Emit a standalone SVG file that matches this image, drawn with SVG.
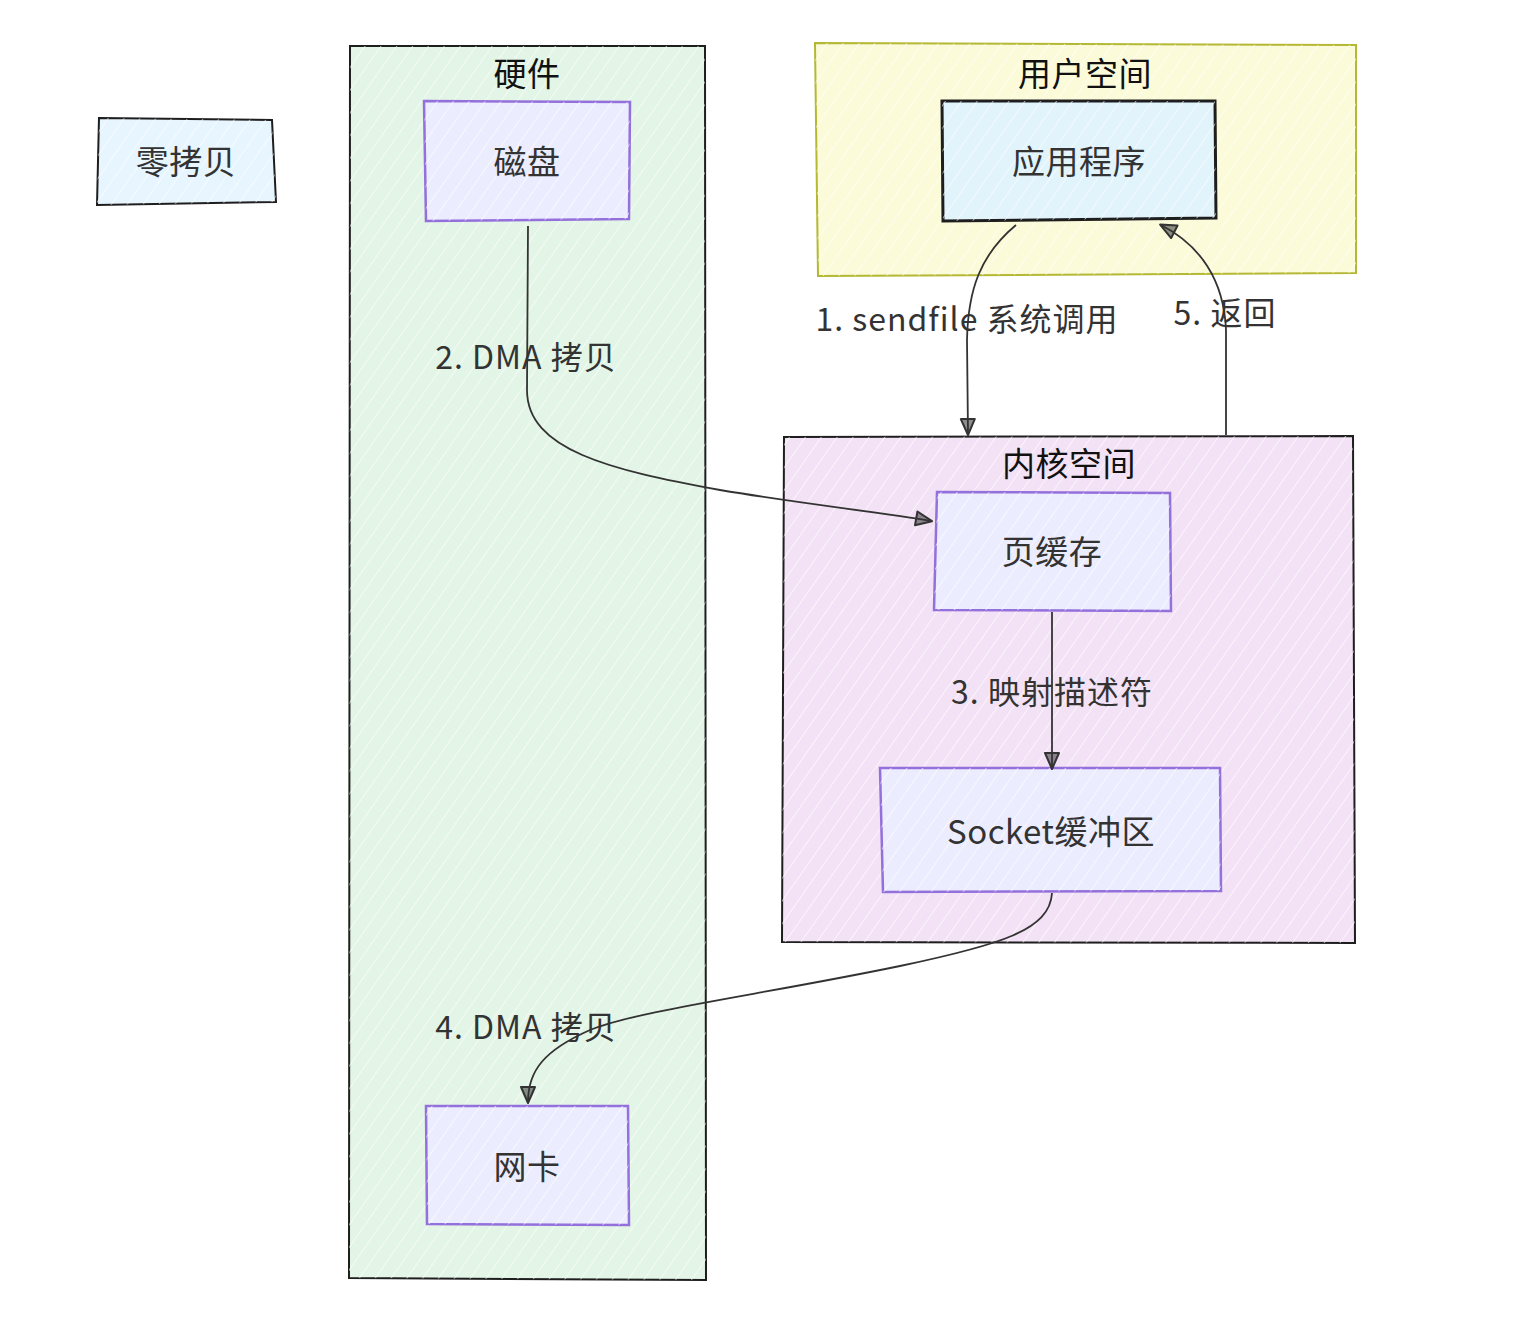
<svg xmlns="http://www.w3.org/2000/svg" width="1514" height="1324" viewBox="0 0 1514 1324">
<defs>
<pattern id="hatch" patternUnits="userSpaceOnUse" width="13" height="13" patternTransform="rotate(35)">
<line x1="0" y1="0" x2="0" y2="13" stroke="#ffffff" stroke-width="2" stroke-opacity="0.6"/>
</pattern>
<marker id="arr" viewBox="0 0 20 20" refX="17" refY="10" markerWidth="20" markerHeight="20" markerUnits="userSpaceOnUse" orient="auto">
<path d="M2,3 L18,10 L2,17 Z" fill="#333333" fill-opacity="0.55" stroke="#333333" stroke-width="2" stroke-linejoin="round"/>
</marker>
<style>
.t{font-family:"Noto Sans CJK SC","Noto Sans",sans-serif;font-size:33px;fill:#333333;text-anchor:middle;dominant-baseline:central;letter-spacing:0.5px}
.title{fill:#111111}
.lbl{font-family:"Noto Sans CJK SC","Noto Sans",sans-serif;font-size:32px;fill:#333333;text-anchor:middle;dominant-baseline:central;letter-spacing:1px}
.node{fill:#ececff;stroke:#9370db;stroke-width:2.5}
.edge{fill:none;stroke:#333333;stroke-width:1.8;marker-end:url(#arr)}
.h{fill:url(#hatch);stroke:none}
</style>
</defs>
<rect width="1514" height="1324" fill="#ffffff"/>

<g id="legend">
<path d="M99,118 L272,120 L276,202 L97,205 Z" fill="#e7f5ff" stroke="#1e1e1e" stroke-width="2"/>
<path d="M99,118 L272,120 L276,202 L97,205 Z" class="h"/>
<text x="186" y="160" class="t">零拷贝</text>
</g>

<g id="cluster-hardware">
<path d="M350,46 L705,46 L706,1280 L349,1278 Z" fill="#e3f5e6" stroke="#1e1e1e" stroke-width="2"/>
<path d="M350,46 L705,46 L706,1280 L349,1278 Z" class="h"/>
<text x="527" y="72" class="t title">硬件</text>
</g>

<g id="cluster-user">
<path d="M815,43 L1356,45 L1356,273 L818,276 Z" fill="#fbfbd9" stroke="#b4b832" stroke-width="2"/>
<path d="M815,43 L1356,45 L1356,273 L818,276 Z" class="h"/>
<text x="1085" y="72" class="t title">用户空间</text>
</g>

<g id="cluster-kernel">
<path d="M784,437 L1353,436 L1355,943 L782,942 Z" fill="#f3e2f5" stroke="#1e1e1e" stroke-width="2"/>
<path d="M784,437 L1353,436 L1355,943 L782,942 Z" class="h"/>
<text x="1069" y="462" class="t title">内核空间</text>
</g>

<g id="node-disk">
<path d="M424,101 L630,102 L629,219 L426,221 Z" class="node"/>
<path d="M424,101 L630,102 L629,219 L426,221 Z" class="h"/>
<text x="527" y="160" class="t">磁盘</text>
</g>

<g id="node-app">
<path d="M942,101 L1215,101 L1216,218 L943,221 Z" fill="#e1f3fb" stroke="#1e1e1e" stroke-width="3"/>
<path d="M942,101 L1215,101 L1216,218 L943,221 Z" class="h"/>
<text x="1079" y="160" class="t">应用程序</text>
</g>

<g id="node-pagecache">
<path d="M937,492 L1170,493 L1171,611 L934,610 Z" class="node"/>
<path d="M937,492 L1170,493 L1171,611 L934,610 Z" class="h"/>
<text x="1052" y="550" class="t">页缓存</text>
</g>

<g id="node-socket">
<path d="M880,768 L1220,768 L1221,891 L883,892 Z" class="node"/>
<path d="M880,768 L1220,768 L1221,891 L883,892 Z" class="h"/>
<text x="1051" y="830" class="t">Socket缓冲区</text>
</g>

<g id="node-nic">
<path d="M426,1106 L628,1106 L629,1225 L427,1224 Z" class="node"/>
<path d="M426,1106 L628,1106 L629,1225 L427,1224 Z" class="h"/>
<text x="527" y="1165" class="t">网卡</text>
</g>

<g id="connectors">
<path class="edge" d="M1016,225 C 980,255 968,290 967,340 L 968,434"/>
<path class="edge" d="M528,226 L527,390 C 527,450 610,470 720,490 C 810,505 880,512 931,521"/>
<path class="edge" d="M1052,612 L1052,768"/>
<path class="edge" d="M1052,893 C 1050,930 1000,945 900,966 C 760,995 640,1010 590,1030 C 545,1050 528,1070 528,1102"/>
<path class="edge" d="M1226,435 L1226,330 C 1224,280 1200,245 1161,225"/>
</g>

<g id="edge-labels">
<text x="967" y="317" class="lbl">1. sendfile 系统调用</text>
<text x="526" y="355" class="lbl">2. DMA 拷贝</text>
<text x="1052" y="690" class="lbl">3. 映射描述符</text>
<text x="526" y="1025" class="lbl">4. DMA 拷贝</text>
<text x="1225" y="311" class="lbl">5. 返回</text>
</g>
</svg>
